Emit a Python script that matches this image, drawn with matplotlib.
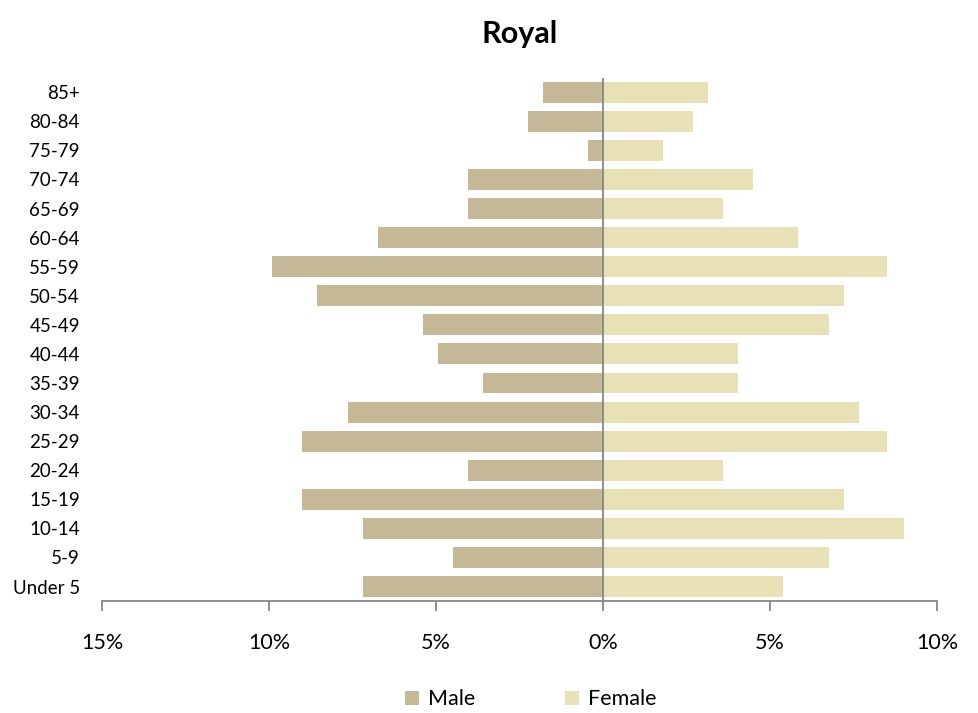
import matplotlib.pyplot as plt
from matplotlib.ticker import FuncFormatter

plt.rcParams['font.family'] = ['Lato', 'DejaVu Sans']

# age groups, bottom to top
ages = ['Under 5', '5-9', '10-14', '15-19', '20-24', '25-29', '30-34', '35-39',
        '40-44', '45-49', '50-54', '55-59', '60-64', '65-69', '70-74', '75-79',
        '80-84', '85+']
# percent of population
male = [7.2, 4.5, 7.2, 9.0, 4.05, 9.0, 7.65, 3.6, 4.95, 5.4, 8.55, 9.9,
        6.75, 4.05, 4.05, 0.45, 2.25, 1.8]
female = [5.4, 6.75, 9.0, 7.2, 3.6, 8.5, 7.65, 4.05, 4.05, 6.75, 7.2, 8.5,
          5.85, 3.6, 4.5, 1.8, 2.7, 3.15]

male_color = '#c4b896'
female_color = '#e8e1b8'

fig = plt.figure(figsize=(9.79, 7.13), dpi=100)
ax = fig.add_axes([0.1042, 0.157, 0.853, 0.734])

y = range(len(ages))
ax.barh(y, [-m for m in male], height=0.72, color=male_color, label='Male')
ax.barh(y, female, height=0.72, color=female_color, label='Female')

ax.set_xlim(-15, 10)
ax.set_ylim(-0.5, len(ages) - 0.5)
ax.set_xticks([-15, -10, -5, 0, 5, 10])
ax.xaxis.set_major_formatter(FuncFormatter(lambda v, p: f'{abs(v):.0f}%'))
ax.set_yticks(list(y))
ax.set_yticklabels(ages)

ax.axvline(0, color='#868686', lw=1.3)
for s in ['top', 'right', 'left']:
    ax.spines[s].set_visible(False)
ax.spines['bottom'].set_color('#868686')
ax.spines['bottom'].set_linewidth(1.3)
ax.tick_params(axis='x', length=7, width=1.3, color='#868686', pad=16, labelsize=15.5)
ax.tick_params(axis='y', length=0, pad=16, labelsize=13.5)

ax.set_title('Royal', fontsize=22, fontweight='bold', pad=25)

fig.legend(loc='lower left', bbox_to_anchor=(0.394, -0.022), ncol=2, frameon=False,
           fontsize=15.5, handlelength=0.65, handleheight=0.65, handletextpad=0.4,
           columnspacing=4.2)

fig.savefig('out.png', dpi=100)
